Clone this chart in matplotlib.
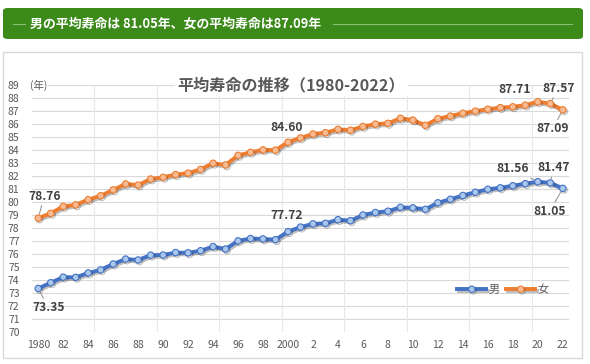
import numpy as np
import matplotlib
matplotlib.use("Agg")
import matplotlib.pyplot as plt
import matplotlib.patheffects as pe
from matplotlib.patches import FancyBboxPatch, Rectangle
from matplotlib.lines import Line2D

plt.rcParams['font.family'] = ['Noto Sans CJK JP', 'DejaVu Sans']

# データ（1980-2022）
years = list(range(1980, 2023))
male = [73.35, 73.79, 74.22, 74.20, 74.54, 74.78, 75.23, 75.61, 75.54, 75.91,
        75.92, 76.11, 76.09, 76.25, 76.57, 76.38, 77.01, 77.19, 77.16, 77.10,
        77.72, 78.07, 78.32, 78.36, 78.64, 78.56, 79.00, 79.19, 79.29, 79.59,
        79.55, 79.44, 79.94, 80.21, 80.50, 80.75, 80.98, 81.09, 81.25, 81.41,
        81.56, 81.47, 81.05]
female = [78.76, 79.13, 79.66, 79.78, 80.18, 80.48, 80.93, 81.39, 81.30, 81.77,
          81.90, 82.11, 82.22, 82.51, 82.98, 82.85, 83.59, 83.82, 84.01, 83.99,
          84.60, 84.93, 85.23, 85.33, 85.59, 85.52, 85.81, 85.99, 86.05, 86.44,
          86.30, 85.90, 86.41, 86.61, 86.83, 86.99, 87.14, 87.26, 87.32, 87.45,
          87.71, 87.57, 87.09]
tick_years = list(range(1980, 2023, 2))
tick_labels = ["1980", "82", "84", "86", "88", "90", "92", "94", "96", "98",
               "2000", "2", "4", "6", "8", "10", "12", "14", "16", "18", "20", "22"]

# ラベル: (年, オフセットpx, 引き出し線)
labels_m = [(1980, (10, -19), True), (2000, (-1, 16), False), (2020, (-25, 13), True),
            (2021, (3, 15), True), (2022, (-13, -23), True)]
labels_f = [(1980, (6, 22), True), (2000, (-1, 15), False), (2020, (-23, 12), False),
            (2021, (8, 15), True), (2022, (-10, -19), True)]

W, H = 590, 364
fig = plt.figure(figsize=(W / 100, H / 100), dpi=100)

# 見出しバー
fig.patches.append(FancyBboxPatch((3 / W, 1 - 39 / H), 580 / W, 31 / H,
                                  boxstyle="round,pad=0,rounding_size=0.008",
                                  transform=fig.transFigure, facecolor="#3B8A1A",
                                  edgecolor="none", zorder=-2))
fig.lines.append(Line2D([13 / W, 25 / W], [1 - 24 / H] * 2, transform=fig.transFigure,
                        color="#8CC277", lw=0.8))
fig.lines.append(Line2D([333 / W, 572 / W], [1 - 24 / H] * 2, transform=fig.transFigure,
                        color="#8CC277", lw=0.8))
fig.text(30 / W, 1 - 24 / H, "男の平均寿命は 81.05年、女の平均寿命は87.09年",
         color="white", fontsize=9.3, fontweight="bold", va="center", ha="left")

# グラフ枠
fig.patches.append(Rectangle((3 / W, 1 - 358 / H), 579 / W, 306 / H,
                             transform=fig.transFigure, facecolor="white",
                             edgecolor="#D9D9D9", lw=1, zorder=-2))

ax = fig.add_axes([32 / W, (H - 332) / H, 537 / W, 247 / H])
ax.set_facecolor("none")

blue, orange = "#4472C4", "#ED7D31"
shadow = [pe.SimpleLineShadow(offset=(1, -1.2), alpha=0.25, rho=0.3), pe.Normal()]
ax.plot(years, male, color=blue, lw=2.8, marker="o", ms=4.6, mfc="#A9C8EC",
        mec=blue, mew=0.8, label="男", path_effects=shadow, zorder=4)
ax.plot(years, female, color=orange, lw=2.8, marker="o", ms=4.6, mfc="#F7BC94",
        mec=orange, mew=0.8, label="女", path_effects=shadow, zorder=4)

ax.set_xlim(1979.5, 2022.5)
ax.set_ylim(70, 89)
ax.set_yticks(range(70, 90))
ax.set_xticks(tick_years)
ax.set_xticklabels(tick_labels)
for s in ax.spines.values():
    s.set_visible(False)
ax.tick_params(length=0, labelsize=7.5, colors="#595959")
ax.tick_params(axis="y", pad=9)
ax.tick_params(axis="x", pad=6)
for v in range(70, 90):
    ax.axhline(v, color="#D9D9D9", lw=0.8, zorder=1)
for v in np.arange(1984.5, 2022, 5):
    ax.axvline(v, color="#E8E8E8", lw=0.8, zorder=1)

ax.text(-2 / 537, 1.0, "(年)", transform=ax.transAxes, fontsize=7.5,
        color="#595959", va="center", ha="left",
        bbox=dict(facecolor="white", edgecolor="none", pad=0.5))

ax.text(0.483, 1.0, "平均寿命の推移（1980-2022）", transform=ax.transAxes,
        fontsize=11.6, fontweight="bold", color="#595959", ha="center", va="center",
        bbox=dict(facecolor="white", edgecolor="none", pad=2))

def put_labels(vals, items):
    for yr, off, lead in items:
        v = vals[years.index(yr)]
        kw = {}
        if lead:
            kw["arrowprops"] = dict(arrowstyle="-", color="#999999", lw=0.8,
                                    shrinkA=0, shrinkB=3)
        ax.annotate(f"{v:.2f}", xy=(yr, v), xytext=off, textcoords="offset pixels",
                    ha="center", va="center", fontsize=8.7, fontweight="bold",
                    color="#404040", zorder=6, **kw)

put_labels(male, labels_m)
put_labels(female, labels_f)

ax.legend(loc="center", bbox_to_anchor=(0.877, 0.17), ncol=2, frameon=False,
          fontsize=8, labelcolor="#595959", handlelength=2.6, columnspacing=0.6,
          handletextpad=0.2)

fig.savefig("out.png", dpi=100)
